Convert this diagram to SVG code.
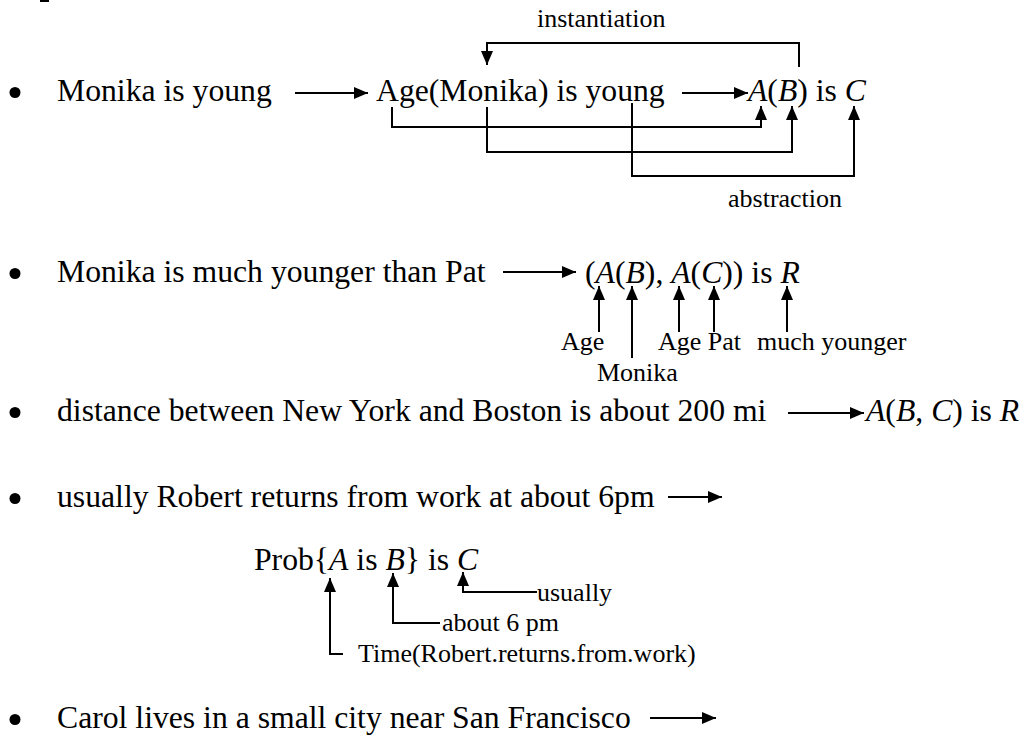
<svg xmlns="http://www.w3.org/2000/svg" width="1031" height="742" viewBox="0 0 1031 742">
  <style>
    .t{font-family:"Liberation Serif","Times New Roman",serif;font-size:31.7px;fill:#000}
    .l{font-family:"Liberation Serif","Times New Roman",serif;font-size:26px;fill:#000}
    .i{font-style:italic}
    .c{fill:none;stroke:#000;stroke-width:2}
    .a{marker-end:url(#ah)}
    .b{fill:#000}
  </style>
  <defs>
    <marker id="ah" viewBox="0 0 14 12" refX="14" refY="6" markerWidth="14" markerHeight="12" markerUnits="userSpaceOnUse" orient="auto">
      <path d="M0,0L14,6L0,12z"/>
    </marker>
  </defs>
  <rect width="1031" height="742" fill="#fff"/>

  <!-- foot of the heading's descender, cut by the top edge -->
  <rect x="40" y="0" width="9" height="2" fill="#000"/>

  <!-- item 1 -->
  <g id="item-young">
    <circle class="b" cx="15" cy="92.5" r="5.5"/>
    <text class="t" x="57" y="101">Monika is young</text>
    <text class="t" x="376" y="101">Age(Monika) is young</text>
    <text class="t" x="748" y="101"><tspan class="i">A</tspan>(<tspan class="i">B</tspan>) is <tspan class="i">C</tspan></text>
    <text class="l" x="537" y="27">instantiation</text>
    <text class="l" x="728" y="207">abstraction</text>
  </g>

  <!-- item 2 -->
  <g id="item-younger">
    <circle class="b" cx="15" cy="273.5" r="5.5"/>
    <text class="t" x="57" y="282">Monika is much younger than Pat</text>
    <text class="t" x="585" y="283">(<tspan class="i">A</tspan>(<tspan class="i">B</tspan>), <tspan class="i">A</tspan>(<tspan class="i">C</tspan>)) is <tspan class="i">R</tspan></text>
    <text class="l" x="561" y="350">Age</text>
    <text class="l" x="658" y="350">Age Pat</text>
    <text class="l" x="757" y="350">much younger</text>
    <text class="l" x="597" y="381">Monika</text>
  </g>

  <!-- item 3 -->
  <g id="item-distance">
    <circle class="b" cx="15" cy="412.5" r="5.5"/>
    <text class="t" x="57" y="421">distance between New York and Boston is about 200 mi</text>
    <text class="t" x="866" y="421"><tspan class="i">A</tspan>(<tspan class="i">B</tspan>, <tspan class="i">C</tspan>) is <tspan class="i">R</tspan></text>
  </g>

  <!-- item 4 -->
  <g id="item-robert">
    <circle class="b" cx="15" cy="498.5" r="5.5"/>
    <text class="t" x="57" y="507">usually Robert returns from work at about 6pm</text>
    <text class="t" x="254" y="570">Prob{<tspan class="i">A</tspan> is <tspan class="i">B</tspan>} is <tspan class="i">C</tspan></text>
    <text class="l" x="537" y="601">usually</text>
    <text class="l" x="442" y="631">about 6 pm</text>
    <text class="l" x="358" y="662">Time(Robert.returns.from.work)</text>
  </g>

  <!-- item 5 -->
  <g id="item-carol">
    <circle class="b" cx="15" cy="719.5" r="5.5"/>
    <text class="t" x="57" y="728">Carol lives in a small city near San Francisco</text>
  </g>

  <!-- connectors -->
  <g id="connectors">
    <path class="c a" d="M295,93H368"/>
    <path class="c a" d="M682,93H748"/>
    <path class="c a" d="M799,67V43H487V65"/>
    <path class="c a" d="M392,107V127H761V106"/>
    <path class="c a" d="M487,107V152H792V106"/>
    <path class="c a" d="M632,103V176H854V106"/>

    <path class="c a" d="M503,272H576"/>
    <path class="c a" d="M599,332V286"/>
    <path class="c a" d="M632,358V286"/>
    <path class="c a" d="M679,332V286"/>
    <path class="c a" d="M714,332V286"/>
    <path class="c a" d="M787,332V286"/>

    <path class="c a" d="M788,413H864"/>

    <path class="c a" d="M668,497H722"/>
    <path class="c a" d="M343,654H330V578"/>
    <path class="c a" d="M440,623H393V573"/>
    <path class="c a" d="M537,592H463V572"/>

    <path class="c a" d="M650,718H716"/>
  </g>
</svg>
